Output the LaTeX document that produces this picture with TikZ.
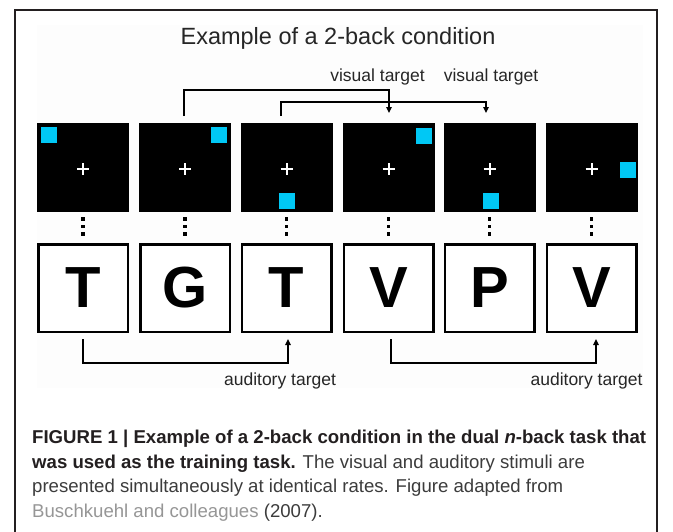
\documentclass[tikz,border=0pt]{standalone}
\usepackage{fontspec}
\setmainfont{Liberation Sans}
\usetikzlibrary{arrows.meta,calc}
\definecolor{cyanbox}{RGB}{0,200,245}
\definecolor{framec}{RGB}{35,31,32}
\definecolor{captxt}{RGB}{60,60,60}
\definecolor{linkc}{RGB}{150,150,150}
\definecolor{bgc}{RGB}{253,253,253}
\begin{document}
\begin{tikzpicture}[x=1pt,y=-1pt,
  vis/.style={fill=black,draw=none,minimum width=92pt,minimum height=89pt,inner sep=0pt,outer sep=0pt},
  aud/.style={draw=black,line width=2.5pt,fill=white,minimum width=89.5pt,minimum height=87.5pt,inner sep=0pt,font=\fontsize{58}{58}\selectfont\bfseries},
  cy/.style={fill=cyanbox,minimum size=16pt,inner sep=0pt,outer sep=0pt},
  conn/.style={line width=1.5pt,draw=black},
  arr/.style={-{Triangle[length=6pt,width=5.5pt]}},
  lab/.style={font=\fontsize{17.5}{20}\selectfont,inner sep=0pt,anchor=base,text=black!85},
  capl/.style={font=\fontsize{18.6}{22}\selectfont,inner sep=0pt,anchor=base west,text=captxt}
]
\useasboundingbox (0,0) rectangle (673,531);
\fill[white] (0,0) rectangle (673,531);
\fill[bgc] (37,25) rectangle (643,388);
\draw[framec,line width=2.5pt] (15,540) -- (15,10) -- (657,10) -- (657,540);

\node[font=\fontsize{23.5}{28}\selectfont,anchor=base,inner sep=0pt,text=black!85] (title) at (338,44) {Example of a 2-back condition};

\foreach \i/\x/\L in {1/83/T,2/185/G,3/286.5/T,4/388.5/V,5/489.5/P,6/591.5/V} {
  \node[vis] (v\i) at (\x,167.5) {};
  \node[aud] (a\i) at (\x,288) {\L};
  \draw[white,line width=2pt] ($(v\i.center)+(-6,1.5)$) -- ++(12,0)
        ($(v\i.center)+(0,-4.5)$) -- ++(0,12);
  \foreach \d in {217,224.5,232} \fill (\x-1.75,\d) rectangle ++(3.5,3.5);
}

\node[cy] (c1) at ($(v1.north west)+(12,12)$) {};
\node[cy] (c2) at ($(v2.north east)+(-12,12)$) {};
\node[cy] (c3) at ($(v3.south)+(0,-11)$) {};
\node[cy] (c4) at ($(v4.north east)+(-10.5,13)$) {};
\node[cy] (c5) at ($(v5.south)+(1,-11)$) {};
\node[cy] (c6) at ($(v6.east)+(-10,2)$) {};

\draw[conn,arr] ($(v2.north)+(-1,-7)$) -- ($(v2.north)+(-1,-33)$) -| ($(v4.north)+(0.5,-10)$);
\draw[conn,arr] ($(v3.north)+(-5.5,-7)$) -- ($(v3.north)+(-5.5,-21)$) -| ($(v5.north)+(-3.5,-10)$);
\draw[conn,arr] ($(a1.south)+(0,6)$) -- ($(a1.south)+(0,30)$) -| ($(a3.south)+(1.5,6)$);
\draw[conn,arr] ($(a4.south)+(2.5,6)$) -- ($(a4.south)+(2.5,30)$) -| ($(a6.south)+(4.5,6)$);

\node[lab] (vt1) at (377.5,81) {visual target};
\node[lab] (vt2) at (491,81) {visual target};
\node[lab] (at1) at (280,385) {auditory target};
\node[lab] (at2) at (586.5,385) {auditory target};

\node[capl,text=framec] (cap1) at (32,443) {\bfseries FIGURE 1 | Example of a 2-back condition in the dual \textit{n}-back task that};
\node[capl] (cap2) at (32,468) {\textcolor{framec}{\bfseries was used as the training task.} The visual and auditory stimuli are};
\node[capl] (cap3) at (32,492.5) {presented simultaneously at identical rates. Figure adapted from};
\node[capl] (cap4) at (32,517) {\textcolor{linkc}{Buschkuehl and colleagues} (2007).};
\end{tikzpicture}
\end{document}
